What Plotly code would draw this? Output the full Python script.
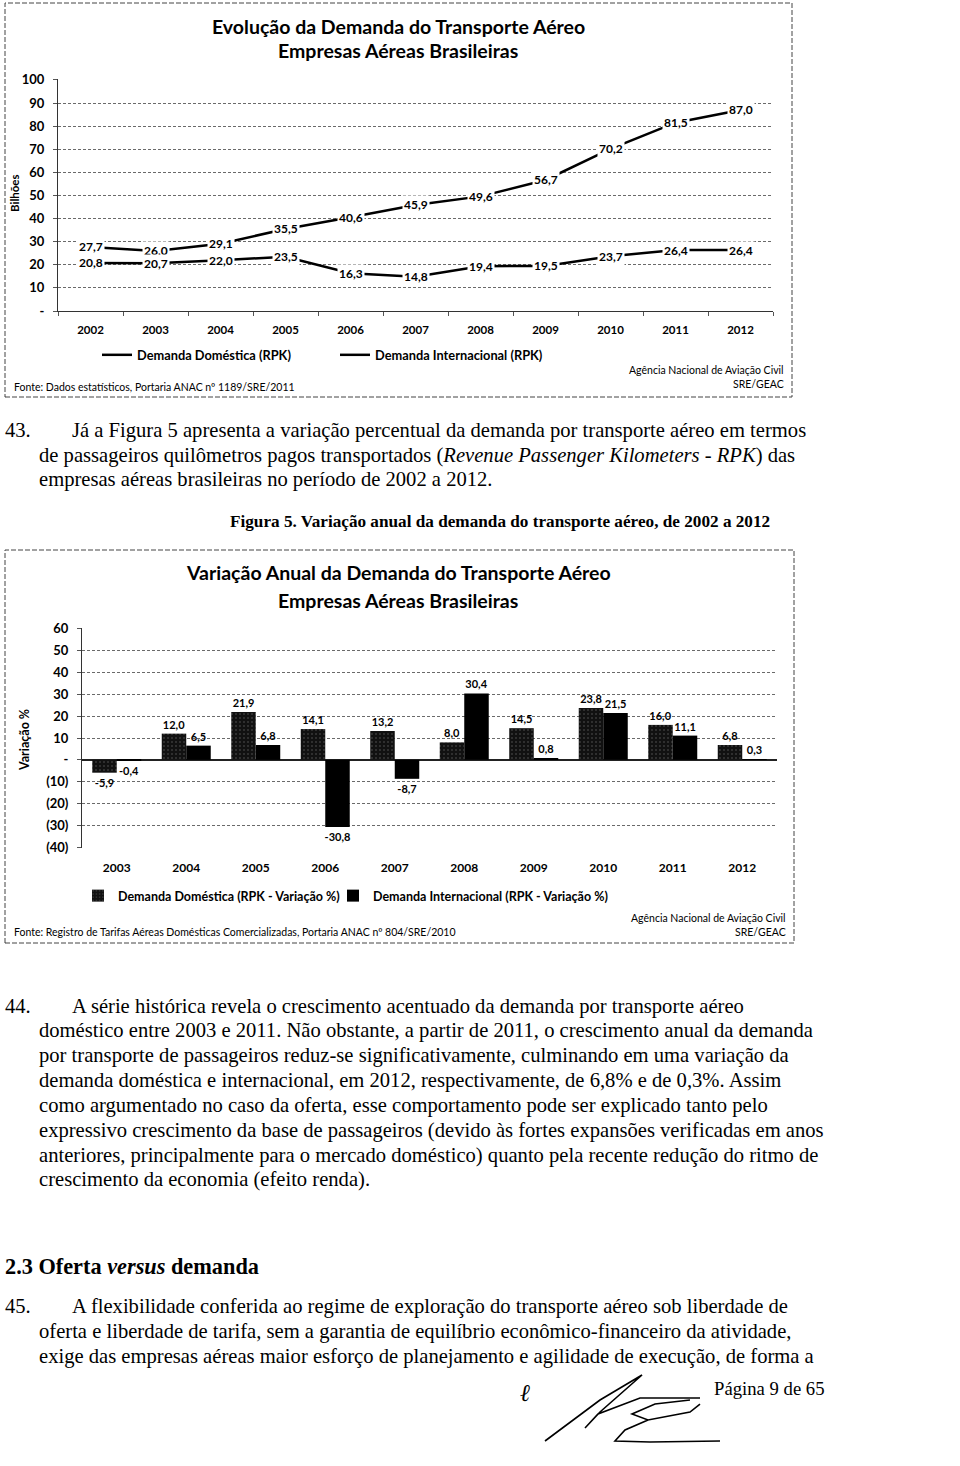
import plotly.graph_objects as go

W, H = 960, 1466


def px(x):
    return x / W


def py(y):
    return 1 - y / H


# ---------------- data ----------------
years_rpk = ['2002', '2003', '2004', '2005', '2006', '2007', '2008', '2009', '2010', '2011', '2012']
rpk_domestic = [27.7, 26.0, 29.1, 35.5, 40.6, 45.9, 49.6, 56.7, 70.2, 81.5, 87.0]
rpk_international = [20.8, 20.7, 22.0, 23.5, 16.3, 14.8, 19.4, 19.5, 23.7, 26.4, 26.4]
rpk_tickvals = [0, 10, 20, 30, 40, 50, 60, 70, 80, 90, 100]
rpk_ticktext = ['-', '10', '20', '30', '40', '50', '60', '70', '80', '90', '100']

years_var = ['2003', '2004', '2005', '2006', '2007', '2008', '2009', '2010', '2011', '2012']
var_domestic = [-5.9, 12.0, 21.9, 14.1, 13.2, 8.0, 14.5, 23.8, 16.0, 6.8]
var_international = [-0.4, 6.5, 6.8, -30.8, -8.7, 30.4, 0.8, 21.5, 11.1, 0.3]
var_tickvals = [-40, -30, -20, -10, 0, 10, 20, 30, 40, 50, 60]
var_ticktext = ['(40)', '(30)', '(20)', '(10)', '-', '10', '20', '30', '40', '50', '60']


def br(v):
    return f"{v:.1f}".replace('.', ',')


SANS = 'Lato'
SERIF = 'Liberation Serif'
GRID = '#6a6a6a'

fig = go.Figure()

# ---------------- chart 1: lines ----------------
fig.add_trace(go.Scatter(
    x=years_rpk, y=rpk_domestic, mode='lines', name='<b>Demanda Doméstica (RPK)</b>',
    line=dict(color='black', width=2.5), xaxis='x', yaxis='y', legend='legend'))
fig.add_trace(go.Scatter(
    x=years_rpk, y=rpk_international, mode='lines', name='<b>Demanda Internacional (RPK)</b>',
    line=dict(color='black', width=2.5), xaxis='x', yaxis='y', legend='legend'))

# ---------------- chart 2: bars ----------------
fig.add_trace(go.Bar(
    x=years_var, y=var_domestic, name='<b>Demanda Doméstica (RPK - Variação %)</b>',
    marker=dict(color='#111111', line=dict(width=0),
                pattern=dict(shape='.', bgcolor='#111111', fgcolor='#5e5e5e', size=4, solidity=0.2)),
    text=[br(v) for v in var_domestic], texttemplate='<b>%{text}</b>', textposition='outside',
    textfont=dict(family=SANS, size=11, color='black'), constraintext='none', cliponaxis=False,
    xaxis='x2', yaxis='y2', legend='legend2'))
fig.add_trace(go.Bar(
    x=years_var, y=var_international, name='<b>Demanda Internacional (RPK - Variação %)</b>',
    marker=dict(color='#000000', line=dict(width=0)),
    text=[br(v) for v in var_international], texttemplate='<b>%{text}</b>', textposition='outside',
    textfont=dict(family=SANS, size=11, color='black'), constraintext='none', cliponaxis=False,
    xaxis='x2', yaxis='y2', legend='legend3'))

annotations = []

# value labels for the line chart (x given as category serial number)
for series in (rpk_domestic, rpk_international):
    for i, v in enumerate(series):
        annotations.append(dict(
            x=i, y=v, xref='x', yref='y', text=f'<b>{br(v)}</b>', showarrow=False,
            bgcolor='white', borderpad=1, font=dict(family=SANS, size=12, color='black')))


def txt(x, y, text, size=12, family=SANS, anchor='left', color='black', angle=0):
    annotations.append(dict(
        x=px(x), y=py(y), xref='paper', yref='paper', text=text, showarrow=False,
        xanchor=anchor, yanchor='middle', textangle=angle,
        font=dict(family=family, size=size, color=color)))


# chart 1 texts
txt(398, 26, '<b>Evolução da Demanda do Transporte Aéreo</b>', 19.5, anchor='center')
txt(398, 50, '<b>Empresas Aéreas Brasileiras</b>', 19.5, anchor='center')
txt(15, 193, '<b>Bilhões</b>', 11.5, anchor='center', angle=-90)
txt(12, 387, 'Fonte: Dados estatísticos, Portaria ANAC nº 1189/SRE/2011', 10.5)
txt(786, 370, 'Agência Nacional de Aviação Civil', 10.5, anchor='right')
txt(786, 384, 'SRE/GEAC', 10.5, anchor='right')

# chart 2 texts
txt(398, 573, '<b>Variação Anual da Demanda do Transporte Aéreo</b>', 19.5, anchor='center')
txt(398, 600, '<b>Empresas Aéreas Brasileiras</b>', 19.5, anchor='center')
txt(24, 740, '<b>Variação %</b>', 12.5, anchor='center', angle=-90)
txt(12, 932, 'Fonte: Registro de Tarifas Aéreas Domésticas Comercializadas, Portaria ANAC nº 804/SRE/2010', 10.5)
txt(788, 918, 'Agência Nacional de Aviação Civil', 10.5, anchor='right')
txt(788, 932, 'SRE/GEAC', 10.5, anchor='right')

# document text
FS = 20.6
txt(3, 430, '43.', FS, SERIF)
txt(70, 430, 'Já a Figura 5 apresenta a variação percentual da demanda por transporte aéreo em termos', FS, SERIF)
txt(37, 455, 'de passageiros quilômetros pagos transportados (<i>Revenue Passenger Kilometers - RPK</i>) das', FS, SERIF)
txt(37, 479, 'empresas aéreas brasileiras no período de 2002 a 2012.', FS, SERIF)
txt(500, 521, '<b>Figura 5. Variação anual da demanda do transporte aéreo, de 2002 a 2012</b>', 17.2, SERIF, anchor='center')

p44 = [
    'A série histórica revela o crescimento acentuado da demanda por transporte aéreo',
    'doméstico entre 2003 e 2011. Não obstante, a partir de 2011, o crescimento anual da demanda',
    'por transporte de passageiros reduz-se significativamente, culminando em uma variação da',
    'demanda doméstica e internacional, em 2012, respectivamente, de 6,8% e de 0,3%. Assim',
    'como argumentado no caso da oferta, esse comportamento pode ser explicado tanto pelo',
    'expressivo crescimento da base de passageiros (devido às fortes expansões verificadas em anos',
    'anteriores, principalmente para o mercado doméstico) quanto pela recente redução do ritmo de',
    'crescimento da economia (efeito renda).',
]
txt(3, 1006, '44.', FS, SERIF)
for i, line in enumerate(p44):
    txt(70 if i == 0 else 37, 1006 + i * 24.85, line, FS, SERIF)

txt(3, 1266, '<b>2.3 Oferta <i>versus</i> demanda</b>', 22.3, SERIF)

p45 = [
    'A flexibilidade conferida ao regime de exploração do transporte aéreo sob liberdade de',
    'oferta e liberdade de tarifa, sem a garantia de equilíbrio econômico-financeiro da atividade,',
    'exige das empresas aéreas maior esforço de planejamento e agilidade de execução, de forma a',
]
txt(3, 1306, '45.', FS, SERIF)
for i, line in enumerate(p45):
    txt(70 if i == 0 else 37, 1306 + i * 25, line, FS, SERIF)

txt(712, 1388, 'Página 9 de 65', 18.7, SERIF)
txt(525, 1393, '<i>ℓ</i>', 24, SERIF, anchor='center')


def path(points_list):
    out = []
    for pts in points_list:
        seg = 'M ' + ' L '.join(f'{px(x):.5f},{py(y):.5f}' for x, y in pts)
        out.append(seg)
    return ' '.join(out)


shapes = [
    dict(type='rect', xref='paper', yref='paper', x0=px(5), x1=px(792), y0=py(397), y1=py(3),
         line=dict(color='#444', width=1, dash='5px,2px')),
    dict(type='rect', xref='paper', yref='paper', x0=px(5), x1=px(794), y0=py(943), y1=py(550),
         line=dict(color='#444', width=1, dash='5px,2px')),
    dict(type='path', xref='paper', yref='paper', line=dict(color='black', width=1.6),
         path=path([
             [(545, 1441), (600, 1400), (642, 1375), (600, 1412), (585, 1428), (598, 1414), (640, 1398), (700, 1398)],
             [(690, 1400), (655, 1404), (632, 1414), (648, 1420), (690, 1412), (700, 1404)],
             [(648, 1420), (625, 1430), (615, 1441), (650, 1442), (720, 1441)],
         ])),
]

axis_font = dict(family=SANS, size=13, color='black')
leg_common = dict(orientation='h', xanchor='left', yanchor='middle', bgcolor='rgba(0,0,0,0)',
                  itemwidth=30, traceorder='normal')

fig.update_layout(
    width=W, height=H, margin=dict(l=0, r=0, t=0, b=0, pad=0, autoexpand=False),
    paper_bgcolor='white', plot_bgcolor='white',
    showlegend=True,
    barmode='group', bargap=0.295, bargroupgap=0,
    xaxis=dict(domain=[px(58), px(773)], anchor='y', type='category',
               categoryorder='array', categoryarray=years_rpk, range=[-0.5, 10.5],
               showgrid=False, showline=True, linecolor='#333', linewidth=1.2,
               ticks='outside', tickson='boundaries', ticklen=4, tickcolor='#555',
               ticklabelstandoff=8, automargin=False,
               tickfont=dict(family=SANS, size=11.5, color='black'),
               ticktext=[f'<b>{y}</b>' for y in years_rpk], tickvals=years_rpk,
               zeroline=False, fixedrange=True),
    yaxis=dict(domain=[py(311), py(79)], anchor='x', range=[0, 100.4], automargin=False,
               tickvals=rpk_tickvals, ticktext=[f'<b>{t}</b>' for t in rpk_ticktext],
               tickfont=axis_font, showgrid=True, gridcolor=GRID, gridwidth=1, griddash='3px,2px',
               showline=True, linecolor='#333', linewidth=1, ticks='outside', ticklen=4,
               tickcolor='#555', ticklabelstandoff=6, zeroline=False),
    xaxis2=dict(domain=[px(82), px(777)], anchor='y2', type='category', automargin=False,
                categoryorder='array', categoryarray=years_var,
                showgrid=False, showline=False, ticks='', ticklabelstandoff=11,
                tickfont=dict(family=SANS, size=12, color='black'),
                ticktext=[f'<b>{y}</b>' for y in years_var], tickvals=years_var,
                zeroline=False),
    yaxis2=dict(domain=[py(848), py(628)], anchor='x2', range=[-40.4, 60.4], automargin=False,
                tickvals=var_tickvals, ticktext=[f'<b>{t}</b>' for t in var_ticktext],
                tickfont=axis_font, showgrid=True, gridcolor=GRID, gridwidth=1, griddash='3px,2px',
                showline=True, linecolor='#333', linewidth=1, ticks='outside', ticklen=4,
                tickcolor='#555', ticklabelstandoff=6,
                zeroline=True, zerolinecolor='#222', zerolinewidth=1.5),
    legend=dict(x=px(97), y=py(355), font=dict(family=SANS, size=12.8, color='black'),
                entrywidth=193, **leg_common),
    legend2=dict(x=px(78), y=py(896), font=dict(family=SANS, size=12.5, color='black'), **leg_common),
    legend3=dict(x=px(333), y=py(896), font=dict(family=SANS, size=12.5, color='black'), **leg_common),
    annotations=annotations,
    shapes=shapes,
)

fig.write_html('out.html')
